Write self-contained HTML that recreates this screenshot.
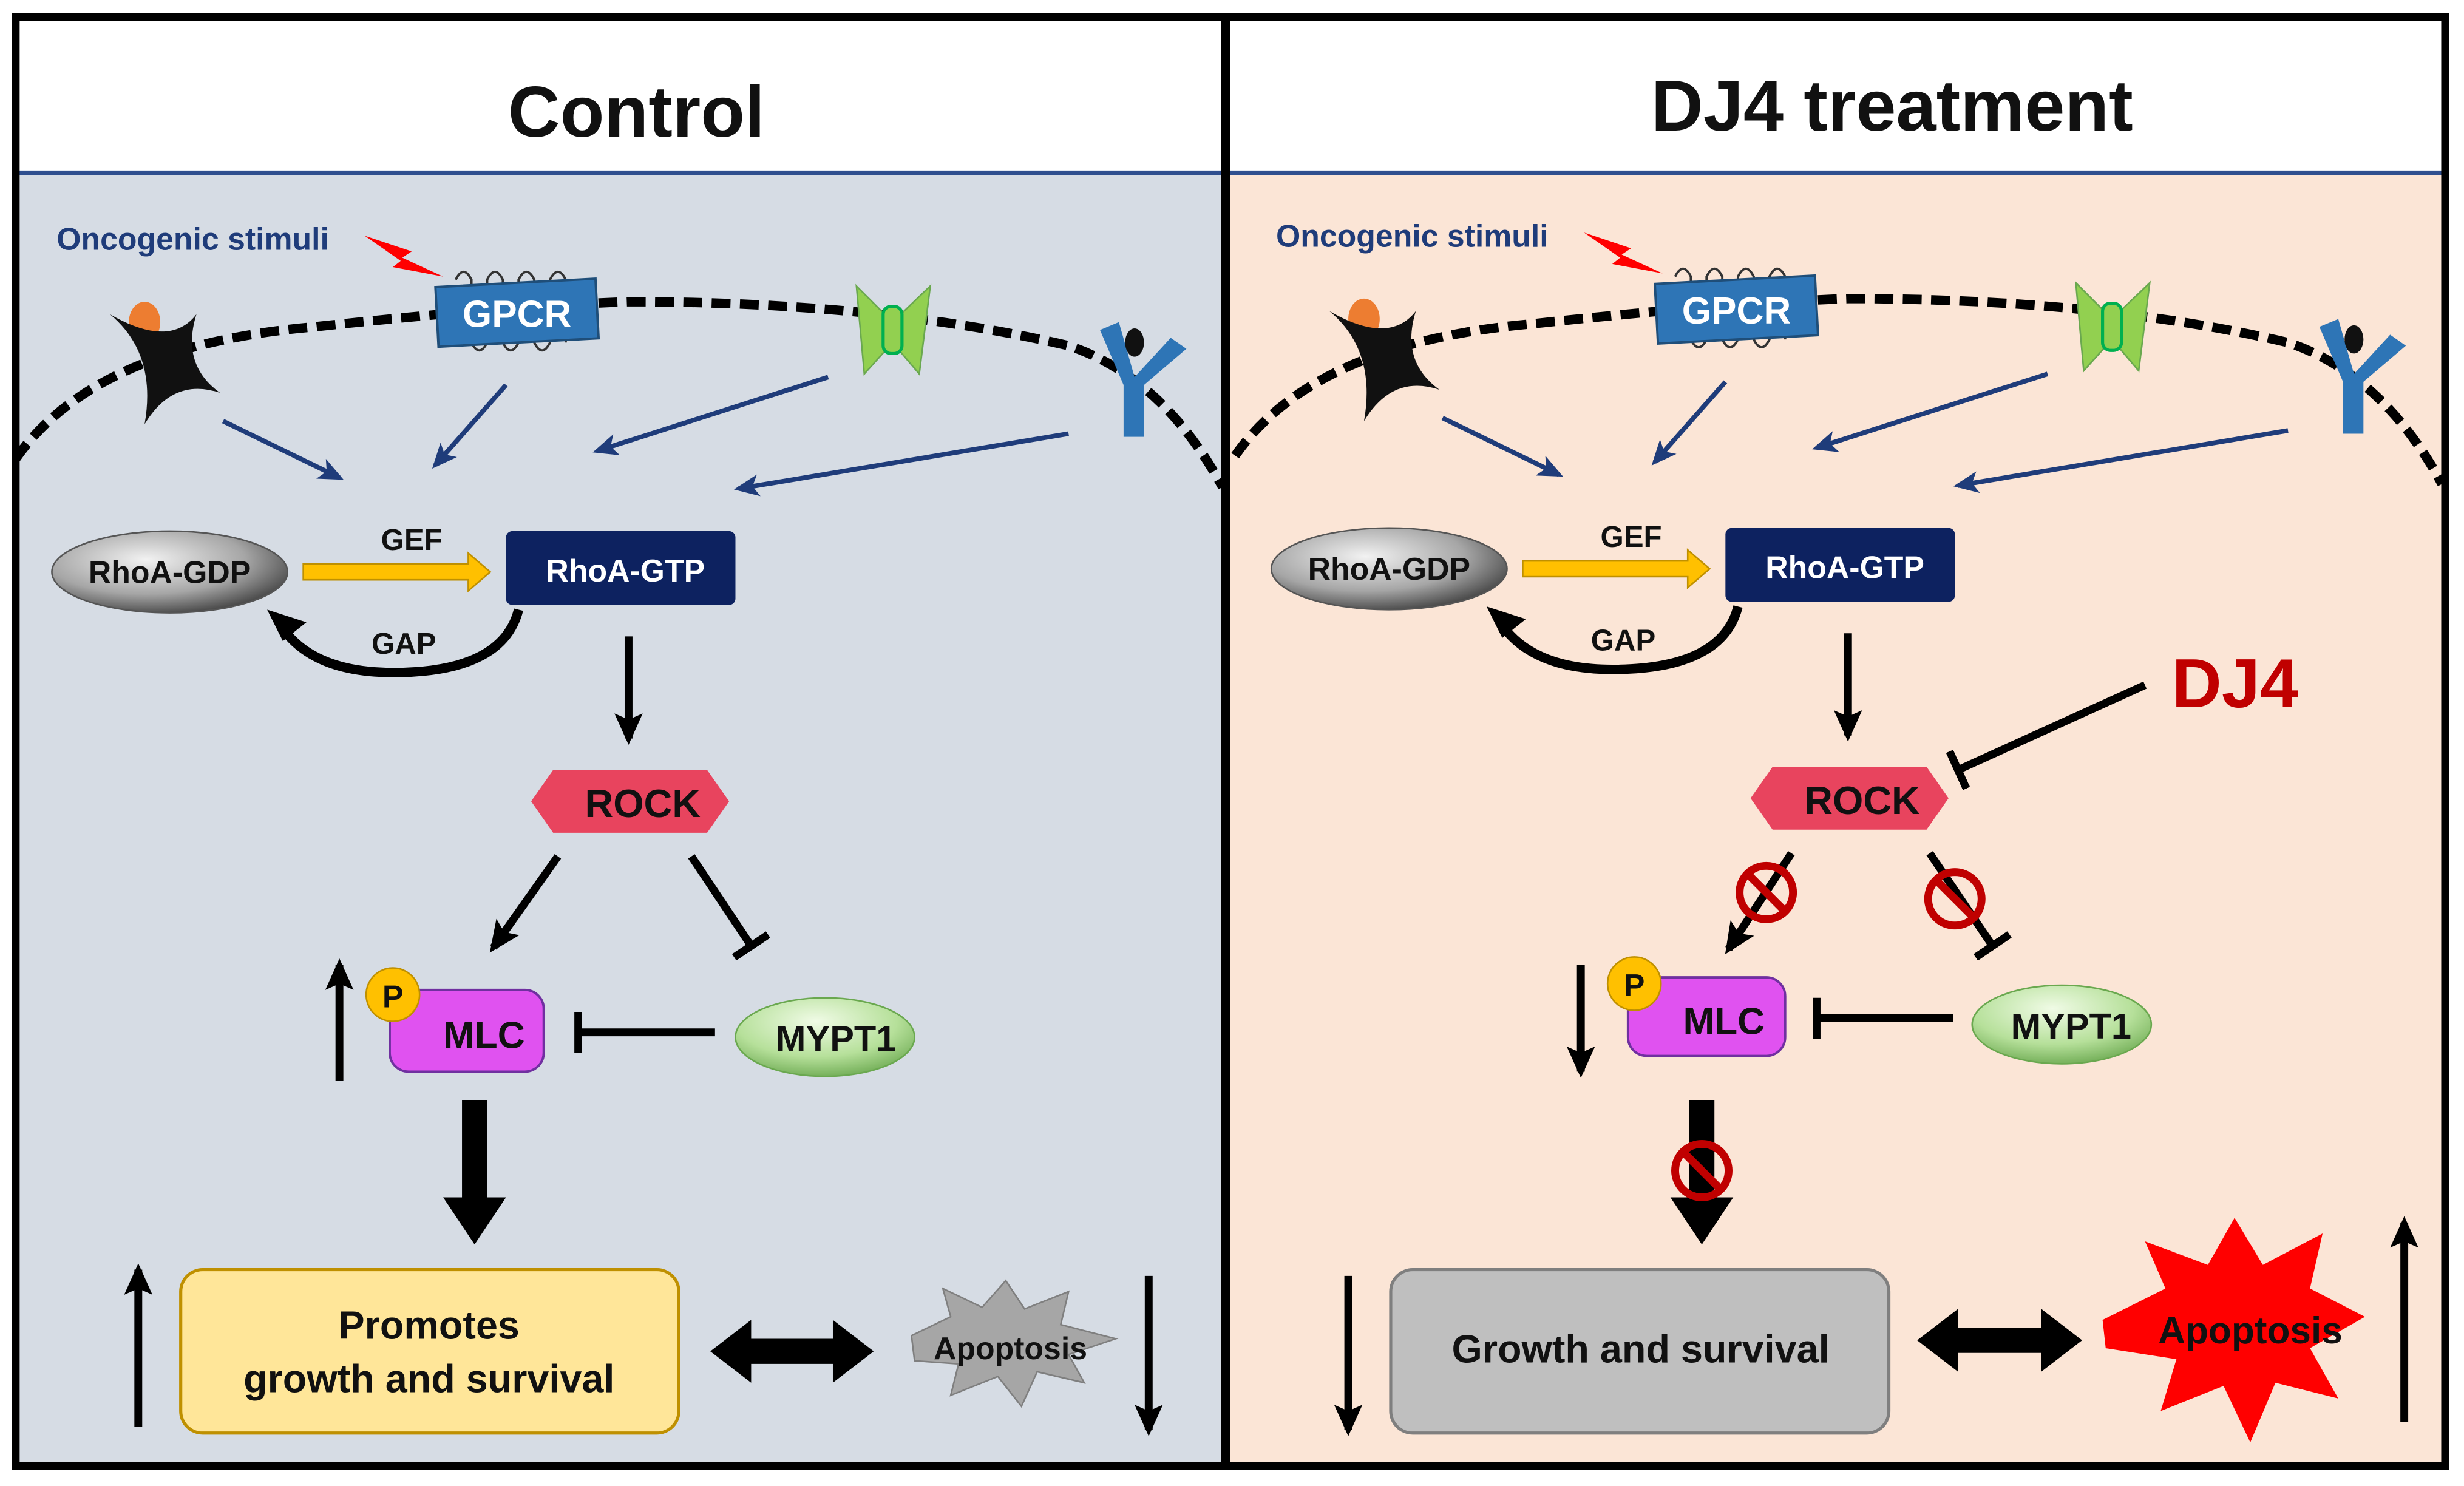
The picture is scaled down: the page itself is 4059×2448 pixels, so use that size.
<!DOCTYPE html>
<html><head><meta charset="utf-8"><style>
html,body{margin:0;padding:0;background:#fff;}
svg{display:block;}
text{font-family:"Liberation Sans",Arial,sans-serif;font-weight:bold;}
</style></head><body>
<svg width="4059" height="2448" viewBox="0 0 1568 945.7" preserveAspectRatio="none" xmlns="http://www.w3.org/2000/svg">
<defs>
<marker id="ah" markerWidth="20" markerHeight="18" refX="16" refY="9" orient="auto" markerUnits="userSpaceOnUse"><path d="M0,0 L20,9 L0,18 L4,9z" fill="#000"/></marker>
<marker id="an" markerWidth="16" markerHeight="14" refX="13" refY="7" orient="auto" markerUnits="userSpaceOnUse"><path d="M0,0 L16,7 L0,14 L4,7z" fill="#1f3c7a"/></marker>
<marker id="bar" markerWidth="5" markerHeight="26" refX="2.5" refY="13" orient="auto" markerUnits="userSpaceOnUse"><rect x="0" y="0" width="5" height="26" fill="#000"/></marker>
<radialGradient id="gg" cx="40%" cy="35%" r="70%"><stop offset="0" stop-color="#f2f2f2"/><stop offset="0.6" stop-color="#a6a6a6"/><stop offset="1" stop-color="#404040"/></radialGradient>
<radialGradient id="gr" cx="45%" cy="30%" r="75%"><stop offset="0" stop-color="#f0fbe6"/><stop offset="0.6" stop-color="#b6e09a"/><stop offset="1" stop-color="#6aa84f"/></radialGradient>
<g id="prohib"><circle r="17" fill="none" stroke="#c00000" stroke-width="5"/><line x1="-12" y1="-12" x2="12" y2="12" stroke="#c00000" stroke-width="5"/></g>
<g id="common">
 <path d="M10,292 Q60,220 200,208 Q320,195 400,192 Q560,192 680,220 Q740,240 778,310" fill="none" stroke="#000" stroke-width="6" stroke-dasharray="12,6"/>
 <text x="36" y="159" font-size="20" fill="#1f3c7a">Oncogenic stimuli</text>
 <path d="M232,150 L262,160 L256,164 L282,176 L250,170 L255,166 Z" fill="#ff0000"/>
 <g stroke="#333" stroke-width="1.5" fill="none">
  <path d="M290,178 q5,-10 10,0 v40 q5,10 10,0 v-40 q5,-10 10,0 v40 q5,10 10,0 v-40 q5,-10 10,0 v40 q5,10 10,0 v-40 q5,-10 10,0 v40"/>
 </g>
 <rect x="278" y="180" width="102" height="38" fill="#2e75b6" stroke="#1f4e79" stroke-width="1.5" transform="rotate(-3 329 199)"/>
 <text x="329" y="208" font-size="24" fill="#fff" text-anchor="middle">GPCR</text>
 <ellipse cx="92" cy="205" rx="10" ry="13" fill="#ed7d31"/>
 <path d="M70,200 Q100,225 92,270 Q110,240 140,250 Q115,232 125,200 Q108,222 70,200Z" fill="#111"/>
 <path d="M545,182 L568,205 L592,182 L585,238 L568,218 L550,238 Z" fill="#92d050" stroke="#6aa84f"/>
 <rect x="562" y="195" width="12" height="30" rx="5" fill="#92d050" stroke="#00b050" stroke-width="2"/>
 <path d="M700,210 L715,245 L715,278 L728,278 L728,245 L755,222 L745,215 L722,240 L712,205Z" fill="#2e75b6"/>
 <ellipse cx="722" cy="218" rx="6" ry="9" fill="#111"/>
 <g stroke="#1f3c7a" stroke-width="3" marker-end="url(#an)">
  <line x1="142" y1="268" x2="216" y2="304"/>
  <line x1="322" y1="245" x2="277" y2="296"/>
  <line x1="527" y1="240" x2="380" y2="287"/>
  <line x1="680" y1="276" x2="470" y2="311"/>
 </g>
 <ellipse cx="108" cy="364" rx="75" ry="26" fill="url(#gg)" stroke="#555"/>
 <text x="108" y="371" font-size="20" text-anchor="middle" fill="#111">RhoA-GDP</text>
 <path d="M193,359 H298 V352 L312,364 L298,376 V369 H193Z" fill="#ffc000" stroke="#bf9000"/>
 <text x="262" y="350" font-size="19" text-anchor="middle" fill="#111">GEF</text>
 <rect x="322" y="338" width="146" height="47" rx="4" fill="#0d2260"/>
 <text x="398" y="370" font-size="20" text-anchor="middle" fill="#fff">RhoA-GTP</text>
 <path d="M330,388 Q320,428 250,428 Q200,428 180,400" fill="none" stroke="#000" stroke-width="6"/>
 <path d="M170,388 L195,396 L180,408 Z" fill="#000"/>
 <text x="257" y="416" font-size="19" text-anchor="middle" fill="#111">GAP</text>
 <path d="M338,510 L352,490 L450,490 L464,510 L450,530 L352,530Z" fill="#e8445e"/>
 <text x="409" y="520" font-size="25" text-anchor="middle" fill="#111">ROCK</text>
</g>
</defs>
<rect width="1568" height="946" fill="#fff"/>
<rect x="10" y="110" width="768" height="823" fill="#d6dce4"/>
<rect x="782" y="110" width="774" height="823" fill="#fbe5d6"/>
<line x1="10" y1="110" x2="1556" y2="110" stroke="#2f4f8f" stroke-width="3"/>
<rect x="10" y="11" width="1546" height="922" fill="none" stroke="#000" stroke-width="5"/>
<line x1="780" y1="11" x2="780" y2="933" stroke="#000" stroke-width="6"/>
<text x="405" y="87" font-size="46" text-anchor="middle" fill="#111">Control</text>
<text x="1204" y="83" font-size="46" text-anchor="middle" fill="#111">DJ4 treatment</text>

<use href="#common"/>
<use href="#common" transform="translate(776,-2)"/>

<g stroke="#000" stroke-width="5">
 <line x1="400" y1="405" x2="400" y2="470" marker-end="url(#ah)"/>
 <line x1="355" y1="545" x2="314" y2="603" marker-end="url(#ah)"/>
 <line x1="440" y1="545" x2="478" y2="602" marker-end="url(#bar)"/>
 <line x1="455" y1="657" x2="368" y2="657" marker-end="url(#bar)"/>
 <line x1="216" y1="688" x2="216" y2="614" marker-end="url(#ah)"/>
 <line x1="88" y1="908" x2="88" y2="808" marker-end="url(#ah)"/>
 <line x1="731" y1="812" x2="731" y2="910" marker-end="url(#ah)"/>
</g>
<rect x="248" y="630" width="98" height="52" rx="12" fill="#e052f0" stroke="#7030a0" stroke-width="1.5"/>
<circle cx="250" cy="633" r="17" fill="#ffc000" stroke="#bf9000"/>
<text x="250" y="641" font-size="20" text-anchor="middle" fill="#111">P</text>
<text x="308" y="667" font-size="24" text-anchor="middle" fill="#111">MLC</text>
<ellipse cx="525" cy="660" rx="57" ry="25" fill="url(#gr)" stroke="#6aa84f"/>
<text x="532" y="669" font-size="23" text-anchor="middle" fill="#111">MYPT1</text>
<path d="M294,700 H310 V762 H322 L302,792 L282,762 H294Z" fill="#000"/>
<rect x="115" y="808" width="317" height="104" rx="14" fill="#ffe699" stroke="#bf9000" stroke-width="2"/>
<text x="273" y="852" font-size="25" text-anchor="middle" fill="#111">Promotes</text>
<text x="273" y="886" font-size="25" text-anchor="middle" fill="#111">growth and survival</text>
<path d="M452,860 L478,840 V852 H530 V840 L556,860 L530,880 V868 H478 V880Z" fill="#000"/>
<path d="M580,850 L605,838 L600,820 L625,832 L640,815 L652,833 L680,822 L675,843 L710,852 L680,862 L690,880 L660,873 L650,895 L635,876 L605,888 L610,868 L582,866Z" fill="#a6a6a6" stroke="#7f7f7f"/>
<text x="643" y="865" font-size="20" text-anchor="middle" fill="#111">Apoptosis</text>

<g stroke="#000" stroke-width="5">
 <line x1="1176" y1="403" x2="1176" y2="468" marker-end="url(#ah)"/>
 <line x1="1365" y1="436" x2="1246" y2="490" stroke-width="5" marker-end="url(#bar)"/>
 <line x1="1140" y1="543" x2="1100" y2="604" marker-end="url(#ah)"/>
 <line x1="1228" y1="543" x2="1268" y2="602" marker-end="url(#bar)"/>
 <line x1="1243" y1="648" x2="1156" y2="648" marker-end="url(#bar)"/>
 <line x1="1006" y1="614" x2="1006" y2="682" marker-end="url(#ah)"/>
 <line x1="858" y1="812" x2="858" y2="910" marker-end="url(#ah)"/>
 <line x1="1530" y1="905" x2="1530" y2="778" marker-end="url(#ah)"/>
</g>
<text x="1382" y="450" font-size="44" fill="#c00000">DJ4</text>
<rect x="1036" y="622" width="100" height="50" rx="12" fill="#e052f0" stroke="#7030a0" stroke-width="1.5"/>
<circle cx="1040" cy="626" r="17" fill="#ffc000" stroke="#bf9000"/>
<text x="1040" y="634" font-size="20" text-anchor="middle" fill="#111">P</text>
<text x="1097" y="658" font-size="24" text-anchor="middle" fill="#111">MLC</text>
<ellipse cx="1312" cy="652" rx="57" ry="25" fill="url(#gr)" stroke="#6aa84f"/>
<text x="1318" y="661" font-size="23" text-anchor="middle" fill="#111">MYPT1</text>
<path d="M1075,700 H1091 V762 H1103 L1083,792 L1063,762 H1075Z" fill="#000"/>
<use href="#prohib" x="1124" y="568"/>
<use href="#prohib" x="1244" y="572"/>
<use href="#prohib" x="1083" y="745"/>
<rect x="885" y="808" width="317" height="104" rx="14" fill="#bfbfbf" stroke="#7f7f7f" stroke-width="2"/>
<text x="1044" y="867" font-size="25" text-anchor="middle" fill="#111">Growth and survival</text>
<path d="M1220,853 L1246,833 V845 H1299 V833 L1325,853 L1299,873 V861 H1246 V873Z" fill="#000"/>
<path d="M1338,840 L1378,820 L1365,790 L1405,805 L1422,775 L1440,805 L1478,785 L1470,820 L1505,838 L1470,858 L1488,890 L1448,880 L1432,918 L1415,882 L1375,898 L1385,865 L1340,858Z" fill="#ff0000"/>
<text x="1432" y="855" font-size="24" text-anchor="middle" fill="#111">Apoptosis</text>
</svg>
</body></html>
